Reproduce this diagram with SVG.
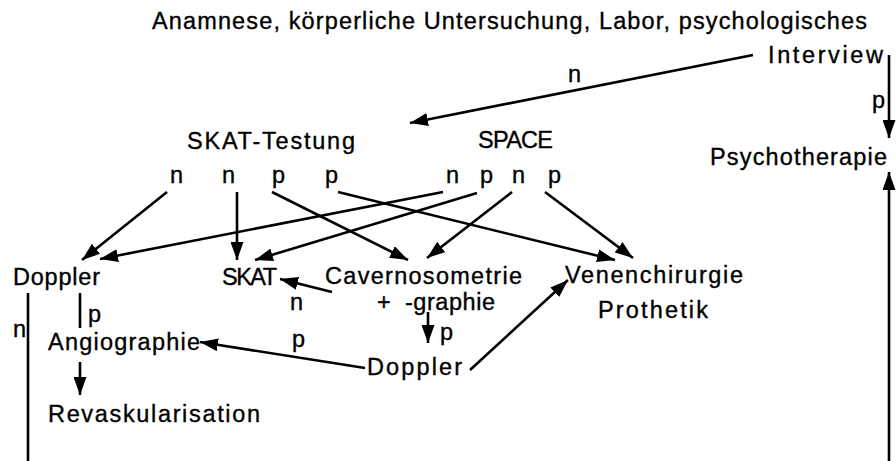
<svg xmlns="http://www.w3.org/2000/svg" width="896" height="461" viewBox="0 0 896 461">
<style>
text{font-family:"Liberation Sans",Arial,sans-serif;font-size:23.5px;fill:#000;stroke:#000;stroke-width:0.35}
.c line{stroke:#000;stroke-width:2.6;fill:none}
.a{marker-end:url(#ah)}
</style>
<defs>
<marker id="ah" markerUnits="userSpaceOnUse" markerWidth="18" markerHeight="13" refX="18" refY="6.5" orient="auto">
<path d="M0,0 L18,6.5 L0,13 z" fill="#000"/>
</marker>
</defs>
<rect width="896" height="461" fill="#fff"/>
<g id="anamnese"><text x="152" y="29" textLength="715" lengthAdjust="spacing">Anamnese, körperliche Untersuchung, Labor, psychologisches</text>
<text x="768" y="63" textLength="115" lengthAdjust="spacing">Interview</text></g>
<g id="psychotherapie"><text x="710" y="165" textLength="177" lengthAdjust="spacing">Psychotherapie</text></g>
<g id="skat-testung"><text x="187" y="149" textLength="168" lengthAdjust="spacing">SKAT-Testung</text>
<text x="170" y="183">n</text><text x="222" y="183">n</text><text x="272" y="183">p</text><text x="325" y="183">p</text></g>
<g id="space"><text x="478" y="148" textLength="75" lengthAdjust="spacing">SPACE</text>
<text x="446" y="183">n</text><text x="480" y="183">p</text><text x="512" y="183">n</text><text x="548" y="183">p</text></g>
<g id="doppler1"><text x="13" y="285" textLength="87" lengthAdjust="spacing">Doppler</text></g>
<g id="skat"><text x="222" y="285" textLength="55" lengthAdjust="spacing">SKAT</text></g>
<g id="cavernosometrie"><text x="325" y="284" textLength="197" lengthAdjust="spacing">Cavernosometrie</text>
<text y="310"><tspan x="377">+ </tspan><tspan x="405" textLength="90" lengthAdjust="spacing">-graphie</tspan></text></g>
<g id="venenchirurgie"><text x="565" y="283" textLength="178" lengthAdjust="spacing">Venenchirurgie</text>
<text x="598" y="318" textLength="110" lengthAdjust="spacing">Prothetik</text></g>
<g id="doppler2"><text x="367" y="375" textLength="95" lengthAdjust="spacing">Doppler</text></g>
<g id="angiographie"><text x="48" y="350" textLength="152" lengthAdjust="spacing">Angiographie</text></g>
<g id="revaskularisation"><text x="48" y="422" textLength="212" lengthAdjust="spacing">Revaskularisation</text></g>
<g id="labels">
<text x="568" y="82">n</text>
<text x="872" y="108">p</text>
<text x="290" y="310">n</text>
<text x="440" y="340">p</text>
<text x="292" y="347">p</text>
<text x="88" y="322">p</text>
<text x="13" y="337">n</text>
</g>
<g id="connectors" class="c">
<line class="a" x1="753" y1="55" x2="410" y2="123"/>
<line class="a" x1="889" y1="55" x2="889" y2="138"/>
<line class="a" x1="167" y1="192" x2="82" y2="260"/>
<line class="a" x1="237" y1="192" x2="237" y2="260"/>
<line class="a" x1="272" y1="192" x2="408" y2="260"/>
<line class="a" x1="338" y1="192" x2="615" y2="260"/>
<line class="a" x1="443" y1="192" x2="100" y2="259"/>
<line class="a" x1="477" y1="193" x2="255" y2="260"/>
<line class="a" x1="512" y1="192" x2="427" y2="258"/>
<line class="a" x1="545" y1="192" x2="633" y2="258"/>
<line class="a" x1="332" y1="292" x2="280" y2="279"/>
<line class="a" x1="428" y1="312" x2="428" y2="343"/>
<line class="a" x1="365" y1="368" x2="200" y2="342"/>
<line class="a" x1="470" y1="370" x2="568" y2="280"/>
<line x1="80" y1="293" x2="80" y2="328"/>
<line class="a" x1="80" y1="362" x2="80" y2="395"/>
<line x1="28" y1="293" x2="28" y2="461"/>
<line class="a" x1="889" y1="461" x2="889" y2="172"/>
</g>
</svg>
